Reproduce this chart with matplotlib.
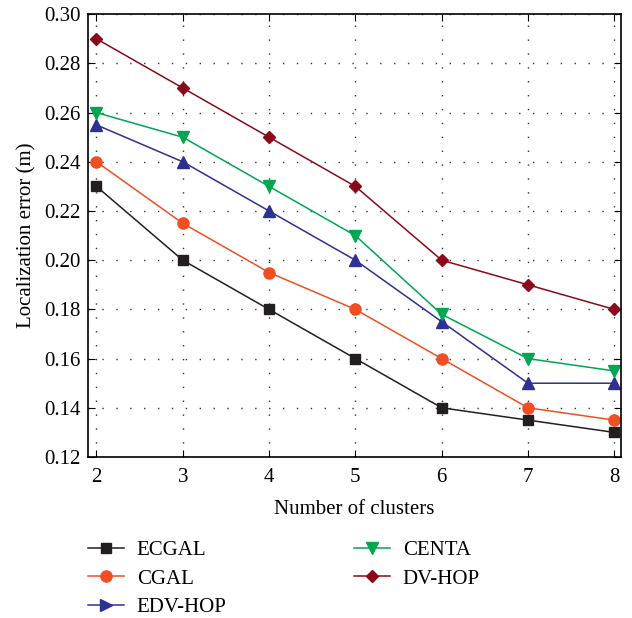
import matplotlib.pyplot as plt
from matplotlib.lines import Line2D

clusters = [2, 3, 4, 5, 6, 7, 8]
ecgal = [0.230, 0.200, 0.180, 0.160, 0.140, 0.135, 0.130]
cgal = [0.240, 0.215, 0.195, 0.180, 0.160, 0.140, 0.135]
edv_hop = [0.255, 0.240, 0.220, 0.200, 0.175, 0.150, 0.150]
centa = [0.260, 0.250, 0.230, 0.210, 0.178, 0.160, 0.155]
dv_hop = [0.290, 0.270, 0.250, 0.230, 0.200, 0.190, 0.180]
yticks = [0.12, 0.14, 0.16, 0.18, 0.20, 0.22, 0.24, 0.26, 0.28, 0.30]

plt.rcParams['font.family'] = ['Liberation Serif', 'DejaVu Serif']

fig = plt.figure(figsize=(6.32, 6.18), dpi=100)
ax = fig.add_axes([0.139, 0.2605, 0.844, 0.7165])

series = [
    ('ECGAL', ecgal, '#231f20', 's', 's', 7),
    ('CGAL', cgal, '#f04e23', 'o', 'o', 8),
    ('EDV-HOP', edv_hop, '#2e3192', '^', '>', 8),
    ('CENTA', centa, '#00a651', 'v', 'v', 8),
    ('DV-HOP', dv_hop, '#8b0a1a', 'D', 'D', 6.5),
]
handles = []
for name, vals, col, mk, legmk, ms in series:
    ax.plot(clusters, vals, color=col, marker=mk, markersize=ms, linewidth=1.1)
    handles.append(Line2D([], [], color=col, marker=legmk, markersize=ms,
                          linewidth=1.1, label=name))

ax.set_xlim(1.9, 8.08)
ax.set_ylim(0.12, 0.30)
ax.set_xticks(clusters)
ax.set_yticks(yticks)
ax.set_yticklabels([f'{v:.2f}' for v in yticks])
ax.grid(True, linestyle=(0, (1, 9)), color='#333333', linewidth=1.0)
ax.tick_params(direction='in', top=True, right=True, labelsize=15, length=5)
ax.tick_params(axis='x', pad=8)
ax.tick_params(axis='y', pad=5)
for sp in ax.spines.values():
    sp.set_linewidth(1.2)
ax.set_xlabel('Number of clusters', fontsize=15, labelpad=9)
ax.set_ylabel('Localization error (m)', fontsize=15, labelpad=6)

fig.legend(handles=handles, ncol=2, loc='upper left', bbox_to_anchor=(0.139, 0.125),
           frameon=False, fontsize=15, handlelength=1.75, handletextpad=0.6,
           columnspacing=6.1, labelspacing=0.42, borderpad=0, borderaxespad=0)

fig.savefig('out.png', dpi=100)
